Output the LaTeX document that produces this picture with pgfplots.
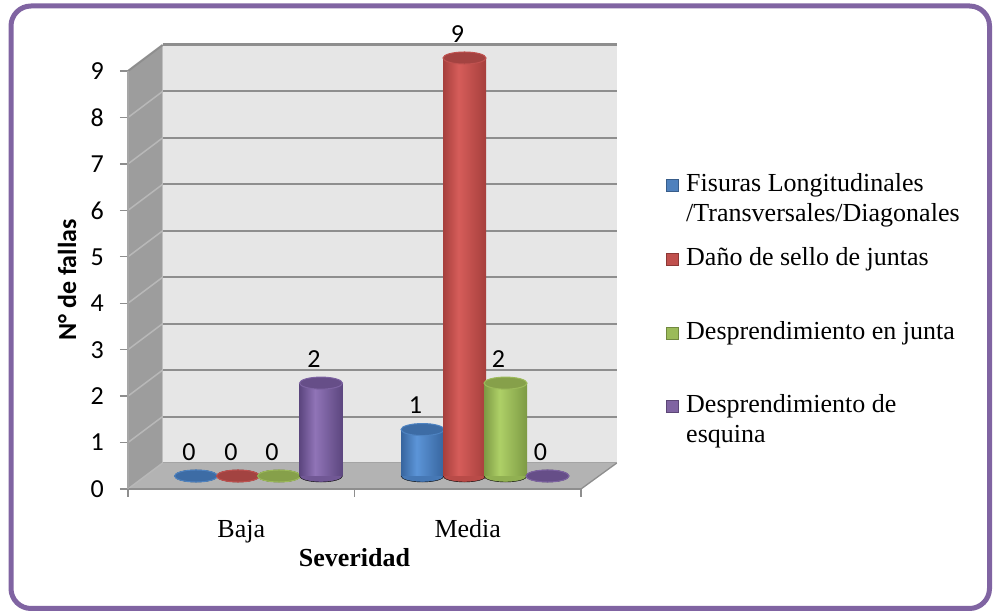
\documentclass[border=0pt]{standalone}
\usepackage{pgfplots}
\pgfplotsset{compat=1.18}
\usepackage{pgfplotstable}
\usepackage{fontspec}
\setmainfont{Liberation Serif}
\newfontfamily\calibri{Carlito}

\definecolor{frameP}{HTML}{8064A2}
\definecolor{wallB}{HTML}{E6E6E6}
\definecolor{wallL}{HTML}{9D9D9D}
\definecolor{floorC}{HTML}{B3B3B3}
\definecolor{gridC}{HTML}{8E8E8E}
\definecolor{diagC}{HTML}{B8B8B8}
\definecolor{axX}{HTML}{8E8E8E}
\definecolor{axY}{HTML}{A6A6A6}
% series colours: dark edge, highlight, top cap
\definecolor{bD}{HTML}{37659E}\definecolor{bL}{HTML}{5C95D8}\definecolor{bT}{HTML}{3D6CA5}
\definecolor{rD}{HTML}{A63F3C}\definecolor{rL}{HTML}{D65D5A}\definecolor{rT}{HTML}{A34341}
\definecolor{gD}{HTML}{7D9A44}\definecolor{gL}{HTML}{AED067}\definecolor{gT}{HTML}{86A04A}
\definecolor{pD}{HTML}{5C467F}\definecolor{pL}{HTML}{9074B7}\definecolor{pT}{HTML}{664E88}
% legend colours
\definecolor{lgB}{HTML}{4F81BD}\definecolor{lgBd}{HTML}{385D8A}
\definecolor{lgR}{HTML}{C0504D}\definecolor{lgRd}{HTML}{8C3836}
\definecolor{lgG}{HTML}{9BBB59}\definecolor{lgGd}{HTML}{71893F}
\definecolor{lgP}{HTML}{8064A2}\definecolor{lgPd}{HTML}{5C4776}

\pgfdeclarehorizontalshading{cylB}{100bp}{color(0bp)=(bD); color(25bp)=(bD); color(43bp)=(bL); color(75bp)=(bD); color(100bp)=(bD)}
\pgfdeclarehorizontalshading{cylR}{100bp}{color(0bp)=(rD); color(25bp)=(rD); color(43bp)=(rL); color(75bp)=(rD); color(100bp)=(rD)}
\pgfdeclarehorizontalshading{cylG}{100bp}{color(0bp)=(gD); color(25bp)=(gD); color(43bp)=(gL); color(75bp)=(gD); color(100bp)=(gD)}
\pgfdeclarehorizontalshading{cylP}{100bp}{color(0bp)=(pD); color(25bp)=(pD); color(43bp)=(pL); color(75bp)=(pD); color(100bp)=(pD)}

\pgfplotstableread{
cat x base fisuras dano junta esquina
Baja 0.5 0 0 0 0 2
Media 1.5 0 1 9 2 0
}\datatable

% #1 column, #2 shift, #3 dark, #4 shading, #5 top, #6 highlight
\newcommand\cyl[6]{%
 \addplot[forget plot, only marks, mark=*, mark size=21.5pt,
   mark options={xshift=#2, yscale=0.28, fill=#3!60!#6, draw=none}]
   table[x=x,y=base]{\datatable};
 \addplot[forget plot, ybar, bar width=43pt, bar shift=#2, draw=none,
   shading=#4, restrict y to domain=0.5:20]
   table[x=x,y=#1]{\datatable};
 \addplot[forget plot, only marks, mark=*, mark size=21.5pt,
   mark options={xshift=#2, yscale=0.28, fill=#5, draw=#6!55!#5, line width=1pt},
   nodes near coords, nodes near coords style={xshift=-7pt}]
   table[x=x,y=#1]{\datatable};
}

\begin{document}
\begin{tikzpicture}
\useasboundingbox (0pt,0pt) rectangle (993pt,612pt);
\fill[white] (0pt,0pt) rectangle (993pt,612pt);
\draw[frameP, line width=5pt, rounded corners=20pt] (11pt,3.5pt) rectangle (989.5pt,606pt);

\begin{axis}[
  at={(128pt,123pt)}, anchor=south west,
  scale only axis, width=453pt, height=418pt,
  xmin=0, xmax=2, ymin=0, ymax=9,
  clip=false, axis on top,
  axis x line*=bottom, axis y line*=left,
  x axis line style={draw=axX, line width=1.3pt, -},
  y axis line style={draw=axY, line width=1.3pt, -},
  tick align=outside, major tick length=8pt,
  tick style={draw=axX, line width=1.3pt},
  ytick={0,1,...,9},
  xtick={0,1,2}, xticklabels={},
  extra x ticks={0.5,1.5}, extra x tick labels={Baja,Media},
  extra x tick style={major tick length=0pt},
  /pgf/number format/assume math mode=true,
  yticklabel style={font=\calibri\fontsize{26}{30}\selectfont, anchor=east, inner sep=0pt, xshift=-16pt},
  xticklabel style={font=\fontsize{26}{30}\selectfont, anchor=base, yshift=-49pt},
  xlabel={\bfseries Severidad},
  xlabel style={font=\fontsize{26}{30}\selectfont, at={(axis description cs:0.5,-0.165)}, anchor=center},
  ylabel={\calibri\bfseries N° de fallas},
  ylabel style={font=\fontsize{26}{30}\selectfont, at={(axis description cs:-0.1347,0.5)}, anchor=center},
]
% left wall
\fill[wallL] (axis cs:0,0) -- (axis cs:0,9) -- (axis cs:0.153,9.56) -- (axis cs:0.153,0.56) -- cycle;
% back wall
\fill[wallB] (axis cs:0.153,0.56) rectangle (axis cs:2.158,9.56);
% floor
\fill[floorC] (axis cs:0,0) -- (axis cs:2,0) -- (axis cs:2.158,0.56) -- (axis cs:0.153,0.56) -- cycle;
\draw[gridC, line width=1.3pt] (axis cs:2,0) -- (axis cs:2.158,0.56);
\draw[gridC!80, line width=1pt] (axis cs:0.153,0.56) -- (axis cs:2.158,0.56);
% grid lines on the back wall and the left wall
\draw[gridC, line width=2pt] (axis cs:0.153,1.56) -- (axis cs:2.158,1.56);
\draw[gridC, line width=2pt] (axis cs:0.153,2.56) -- (axis cs:2.158,2.56);
\draw[gridC, line width=2pt] (axis cs:0.153,3.56) -- (axis cs:2.158,3.56);
\draw[gridC, line width=2pt] (axis cs:0.153,4.56) -- (axis cs:2.158,4.56);
\draw[gridC, line width=2pt] (axis cs:0.153,5.56) -- (axis cs:2.158,5.56);
\draw[gridC, line width=2pt] (axis cs:0.153,6.56) -- (axis cs:2.158,6.56);
\draw[gridC, line width=2pt] (axis cs:0.153,7.56) -- (axis cs:2.158,7.56);
\draw[gridC, line width=2pt] (axis cs:0.153,8.56) -- (axis cs:2.158,8.56);
\draw[gridC, line width=3pt] (axis cs:0.153,9.56) -- (axis cs:2.158,9.56);
\draw[diagC, line width=1.5pt] (axis cs:0,0) -- (axis cs:0.153,0.56);
\draw[diagC, line width=1.5pt] (axis cs:0,1) -- (axis cs:0.153,1.56);
\draw[diagC, line width=1.5pt] (axis cs:0,2) -- (axis cs:0.153,2.56);
\draw[diagC, line width=1.5pt] (axis cs:0,3) -- (axis cs:0.153,3.56);
\draw[diagC, line width=1.5pt] (axis cs:0,4) -- (axis cs:0.153,4.56);
\draw[diagC, line width=1.5pt] (axis cs:0,5) -- (axis cs:0.153,5.56);
\draw[diagC, line width=1.5pt] (axis cs:0,6) -- (axis cs:0.153,6.56);
\draw[diagC, line width=1.5pt] (axis cs:0,7) -- (axis cs:0.153,7.56);
\draw[diagC, line width=1.5pt] (axis cs:0,8) -- (axis cs:0.153,8.56);
\draw[gridC, line width=2pt] (axis cs:0,9) -- (axis cs:0.153,9.56);
\end{axis}

\begin{axis}[
  at={(145.25pt,136pt)}, anchor=south west,
  scale only axis, width=453pt, height=418pt,
  xmin=0, xmax=2, ymin=0, ymax=9,
  hide axis, clip=false, clip marker paths=true,
  /pgf/number format/assume math mode=true,
  every node near coord/.append style={font=\calibri\fontsize{26}{30}\selectfont, anchor=center, yshift=24pt, text=black},
]
\cyl{fisuras}{-62.5pt}{bD}{cylB}{bT}{bL}
\cyl{dano}{-20.5pt}{rD}{cylR}{rT}{rL}
\cyl{junta}{20.5pt}{gD}{cylG}{gT}{gL}
\cyl{esquina}{62.5pt}{pD}{cylP}{pT}{pL}
\end{axis}

% legend
\begin{scope}[font=\fontsize{26}{30}\selectfont]
\filldraw[fill=lgB, draw=lgBd, line width=1pt] (666pt,420pt) rectangle (678pt,432pt);
\node[anchor=base west, inner sep=0pt] at (686pt,420pt) {Fisuras Longitudinales};
\node[anchor=base west, inner sep=0pt] at (686pt,390pt) {/Transversales/Diagonales};
\filldraw[fill=lgR, draw=lgRd, line width=1pt] (666pt,346pt) rectangle (678pt,358pt);
\node[anchor=base west, inner sep=0pt] at (686pt,346pt) {Daño de sello de juntas};
\filldraw[fill=lgG, draw=lgGd, line width=1pt] (666pt,272pt) rectangle (678pt,284pt);
\node[anchor=base west, inner sep=0pt] at (686pt,272pt) {Desprendimiento en junta};
\filldraw[fill=lgP, draw=lgPd, line width=1pt] (666pt,199pt) rectangle (678pt,211pt);
\node[anchor=base west, inner sep=0pt] at (686pt,199pt) {Desprendimiento de};
\node[anchor=base west, inner sep=0pt] at (686pt,169pt) {esquina};
\end{scope}
\end{tikzpicture}
\end{document}
